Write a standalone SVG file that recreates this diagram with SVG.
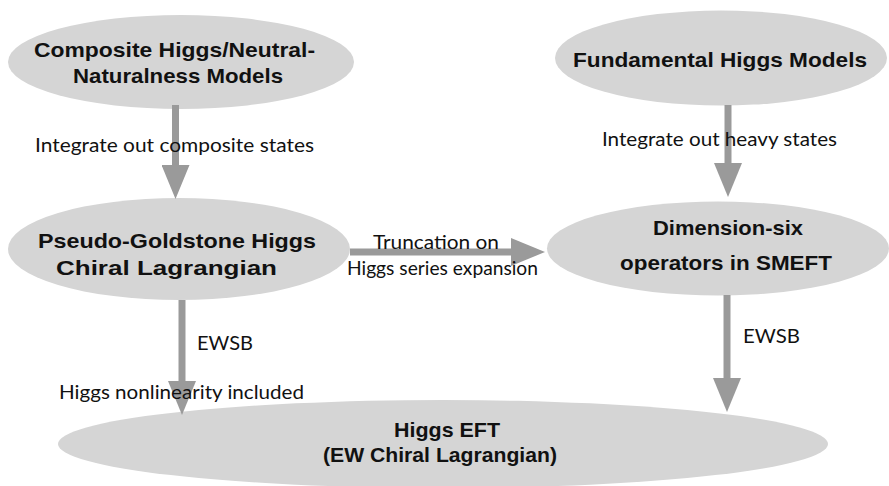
<svg xmlns="http://www.w3.org/2000/svg" width="889" height="486" viewBox="0 0 889 486">
<style>
.node ellipse{fill:#d5d5d5;stroke:none}
.t{font-family:"Liberation Sans",Arial,sans-serif;font-weight:bold;font-size:20.5px;fill:#111}
.l{font-family:Lato,"Open Sans",sans-serif;font-size:19.5px;fill:#111}
.conn line{stroke:#9a9a9a;stroke-width:7;fill:none}
</style>
<defs>
<marker id="ah" markerUnits="userSpaceOnUse" markerWidth="34" markerHeight="28" refX="1" refY="14" orient="auto" viewBox="0 0 34 28">
<path d="M0,0 L34,14 L0,28 z" fill="#9a9a9a"/>
</marker>
</defs>
<rect width="889" height="486" fill="#ffffff"/>
<g id="n-composite" class="node">
<ellipse cx="181" cy="62" rx="173" ry="47"/>
<text class="t" x="34" y="57" textLength="281" lengthAdjust="spacingAndGlyphs">Composite Higgs/Neutral-</text>
<text class="t" x="73" y="83" textLength="210" lengthAdjust="spacingAndGlyphs">Naturalness Models</text>
</g>
<g id="n-fundamental" class="node">
<ellipse cx="721" cy="58" rx="166" ry="47.5"/>
<text class="t" x="573" y="67" textLength="294" lengthAdjust="spacingAndGlyphs">Fundamental Higgs Models</text>
</g>
<g id="n-pseudo" class="node">
<ellipse cx="179" cy="249" rx="171" ry="51"/>
<text class="t" x="38" y="248" textLength="278" lengthAdjust="spacingAndGlyphs">Pseudo-Goldstone Higgs</text>
<text class="t" x="56" y="275" textLength="221" lengthAdjust="spacingAndGlyphs">Chiral Lagrangian</text>
</g>
<g id="n-dim6" class="node">
<ellipse cx="718" cy="248.5" rx="171" ry="47"/>
<text class="t" x="653" y="235" textLength="150" lengthAdjust="spacingAndGlyphs">Dimension-six</text>
<text class="t" x="620" y="270" textLength="212" lengthAdjust="spacingAndGlyphs">operators in SMEFT</text>
</g>
<g id="n-heft" class="node">
<ellipse cx="443" cy="444" rx="385" ry="44"/>
<text class="t" x="394" y="437" textLength="106" lengthAdjust="spacingAndGlyphs">Higgs EFT</text>
<text class="t" x="323" y="462" textLength="234" lengthAdjust="spacingAndGlyphs">(EW Chiral Lagrangian)</text>
</g>
<g id="connectors" class="conn">
<line x1="175.5" y1="105" x2="175.5" y2="166" marker-end="url(#ah)"/>
<line x1="728" y1="105" x2="728" y2="164" marker-end="url(#ah)"/>
<line x1="350" y1="252" x2="512" y2="252" marker-end="url(#ah)"/>
<line x1="182" y1="300" x2="182" y2="382" marker-end="url(#ah)"/>
<line x1="727" y1="295" x2="727" y2="379" marker-end="url(#ah)"/>
</g>
<g id="labels">
<text class="l" x="35" y="152" textLength="279" lengthAdjust="spacingAndGlyphs">Integrate out composite states</text>
<text class="l" x="602" y="146" textLength="235" lengthAdjust="spacingAndGlyphs">Integrate out heavy states</text>
<text class="l" x="373" y="249" textLength="126" lengthAdjust="spacingAndGlyphs">Truncation on</text>
<text class="l" x="347" y="275" textLength="191" lengthAdjust="spacingAndGlyphs">Higgs series expansion</text>
<text class="l" x="197" y="350" textLength="56" lengthAdjust="spacingAndGlyphs">EWSB</text>
<text class="l" x="743" y="343" textLength="57" lengthAdjust="spacingAndGlyphs">EWSB</text>
<text class="l" x="59" y="399" textLength="245" lengthAdjust="spacingAndGlyphs">Higgs nonlinearity included</text>
</g>
</svg>
